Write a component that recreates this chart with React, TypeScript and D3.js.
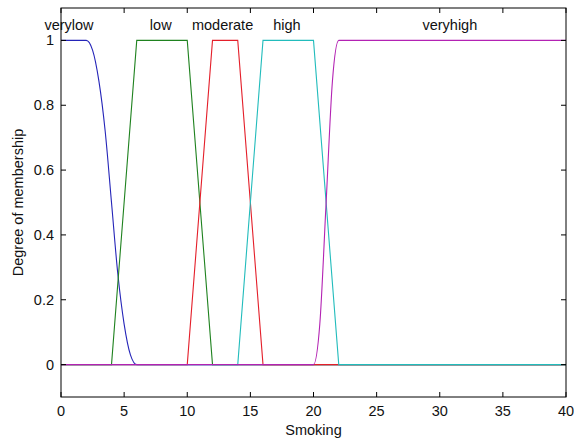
import React from "react";
import * as d3 from "d3";

const mfNames = ["verylow", "low", "moderate", "high", "veryhigh"];
const mfColors = ["#2424b8", "#1f821f", "#e41f2a", "#22bcbc", "#b322b3"];
const labelX = [0.63, 7.9, 12.8, 17.9, 30.8];

const verylowX = [0, 2, 2.5, 3, 3.5, 4, 4.5, 5, 5.5, 6, 40];
const verylowY = [1, 1, 0.97, 0.875, 0.72, 0.5, 0.28, 0.125, 0.03, 0, 0];
const lowX = [0, 4, 6, 10, 12, 40];
const lowY = [0, 0, 1, 1, 0, 0];
const moderateX = [0, 10, 12, 14, 16, 40];
const moderateY = [0, 0, 1, 1, 0, 0];
const highX = [0, 14, 16, 20, 22, 40];
const highY = [0, 0, 1, 1, 0, 0];
const veryhighX = [0, 20, 20.5, 21, 21.5, 22, 40];
const veryhighY = [0, 0, 0.125, 0.5, 0.875, 1, 1];

const xTicks = [0, 5, 10, 15, 20, 25, 30, 35, 40];
const yTicks = [0, 0.2, 0.4, 0.6, 0.8, 1];
const xLabel = "Smoking";
const yLabel = "Degree of membership";

const seriesX = [verylowX, lowX, moderateX, highX, veryhighX];
const seriesY = [verylowY, lowY, moderateY, highY, veryhighY];

export default function App() {
  const W = 574, H = 441;
  const L = 61, R = 566, T = 8, B = 397;
  const x = d3.scaleLinear().domain([0, 40]).range([L, R]);
  const y = d3.scaleLinear().domain([-0.1, 1.1]).range([B, T]);
  const font = "'Liberation Sans', Arial, sans-serif";
  const fs = 14.5;
  const tl = 5;

  const paths = seriesX.map((xs, i) => {
    const pts: [number, number][] = xs.map((v, j) => [v, seriesY[i][j]]);
    const smooth = i === 0 || i === 4;
    const gen = d3
      .line<[number, number]>()
      .x((d) => x(d[0]))
      .y((d) => y(d[1]))
      .curve(smooth ? d3.curveMonotoneX : d3.curveLinear);
    return gen(pts) as string;
  });

  return (
    <svg
      width={W}
      height={H}
      style={{ position: "absolute", left: 0, top: 0, background: "#fff" }}
      fontFamily={font}
    >
      <rect x={0} y={0} width={W} height={H} fill="#fff" />
      {paths.map((d, i) => (
        <path key={i} d={d} fill="none" stroke={mfColors[i]} strokeWidth={1.1} />
      ))}
      <rect x={L} y={T} width={R - L} height={B - T} fill="none" stroke="#000" strokeWidth={1} />
      {xTicks.map((t) => (
        <g key={"x" + t}>
          <line x1={x(t)} x2={x(t)} y1={B} y2={B - tl} stroke="#000" />
          <line x1={x(t)} x2={x(t)} y1={T} y2={T + tl} stroke="#000" />
          <text x={x(t)} y={415.5} fontSize={fs} textAnchor="middle" fill="#111">
            {t}
          </text>
        </g>
      ))}
      {yTicks.map((t) => (
        <g key={"y" + t}>
          <line x1={L} x2={L + tl} y1={y(t)} y2={y(t)} stroke="#000" />
          <line x1={R} x2={R - tl} y1={y(t)} y2={y(t)} stroke="#000" />
          <text x={54} y={y(t) + 5} fontSize={fs} textAnchor="end" fill="#111">
            {d3.format("~g")(t)}
          </text>
        </g>
      ))}
      {mfNames.map((n, i) => (
        <text key={n} x={x(labelX[i])} y={30} fontSize={fs} textAnchor="middle" fill="#111">
          {n}
        </text>
      ))}
      <text x={(L + R) / 2} y={435} fontSize={fs} textAnchor="middle" fill="#111">
        {xLabel}
      </text>
      <text
        transform={`translate(23,${(T + B) / 2}) rotate(-90)`}
        fontSize={fs}
        textAnchor="middle"
        fill="#111"
      >
        {yLabel}
      </text>
    </svg>
  );
}
